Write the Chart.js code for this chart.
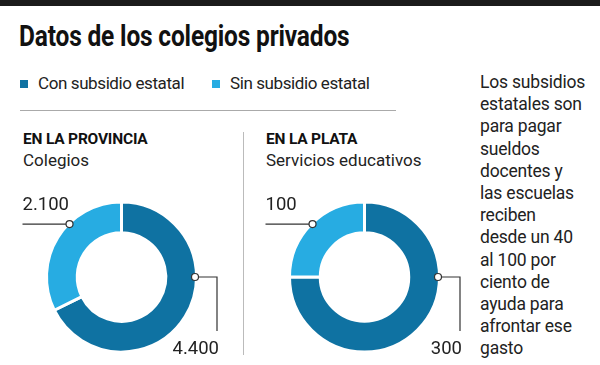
<!DOCTYPE html>
<html>
<head>
<meta charset="utf-8">
<script src="https://cdn.jsdelivr.net/npm/chart.js@4"></script>
<style>
  body { margin: 0; width: 600px; height: 365px; background: #fff; position: relative; overflow: hidden;
         font-family: Roboto, "Liberation Sans", sans-serif; color: #222; }
  .abs { position: absolute; white-space: nowrap; }
  #topbar { left: 0; top: 0; width: 600px; height: 6px; background: #1b1b1b; }
  #title { left: 19px; top: 19px; font-size: 29.5px; font-weight: 700; color: #111; transform: scaleX(0.83); transform-origin: left top; letter-spacing: -0.2px; }
  .leg { top: 73px; font-size: 17px; color: #222; letter-spacing: -0.4px; }
  .leg i { display: inline-block; width: 8px; height: 8px; margin-right: 10px; vertical-align: 1px; }
  #rule { left: 20px; top: 110px; width: 376px; height: 1px; background: #aaa; }
  #vdiv { left: 243px; top: 132px; width: 1px; height: 223px; background: #bbb; }
  .head { font-size: 15.5px; font-weight: 700; color: #111; top: 130px; letter-spacing: -0.2px; }
  .sub { font-size: 17px; top: 150px; color: #222; }
  #note { left: 480px; top: 71px; font-size: 17.5px; line-height: 22.2px; color: #222; letter-spacing: -0.2px; }
  canvas { position: absolute; }
</style>
</head>
<body>
<div class="abs" id="topbar"></div>
<div class="abs" id="title">Datos de los colegios privados</div>
<div class="abs leg" id="leg0" style="left:20px"></div>
<div class="abs leg" id="leg1" style="left:212px"></div>
<div class="abs" id="rule"></div>
<div class="abs" id="vdiv"></div>
<div class="abs head" style="left:23px">EN LA PROVINCIA</div>
<div class="abs sub" style="left:23px">Colegios</div>
<div class="abs head" style="left:266px">EN LA PLATA</div>
<div class="abs sub" style="left:266px">Servicios educativos</div>
<div class="abs" id="note">Los subsidios<br>estatales son<br>para pagar<br>sueldos<br>docentes y<br>las escuelas<br>reciben<br>desde un 40<br>al 100 por<br>ciento de<br>ayuda para<br>afrontar ese<br>gasto</div>
<canvas id="c1" width="243" height="172" style="left:0px;top:191px"></canvas>
<canvas id="c2" width="243" height="172" style="left:243px;top:191px"></canvas>
<script>
// categories
const categories = ["Con subsidio estatal", "Sin subsidio estatal"];
const colors = ["#0f72a2", "#27ace2"];
// series values
const provincia = [4400, 2100];   // colegios
const laPlata = [300, 100];       // servicios educativos

// legend
categories.forEach((c, i) => {
  document.getElementById("leg" + i).innerHTML = '<i style="background:' + colors[i] + '"></i>' + c;
});

function fmt(v) {
  return String(v).replace(/\B(?=(\d{3})+(?!\d))/g, ".");
}

// leader lines + value labels
const leaders = {
  id: "leaders",
  afterDatasetsDraw(chart) {
    const ctx = chart.ctx;
    const arc = chart.getDatasetMeta(0).data[0];
    const cx = arc.x, cy = arc.y, r = arc.outerRadius - 1.5;
    const vals = chart.data.datasets[0].data;
    ctx.save();
    ctx.strokeStyle = "#333";
    ctx.lineWidth = 1.2;
    ctx.fillStyle = "#222";
    ctx.font = "18.5px Roboto";
    ctx.textBaseline = "middle";

    // first value (dark): marker at 3 o'clock, line right then down
    let px = cx + r, py = cy;
    ctx.beginPath();
    ctx.moveTo(px, py);
    ctx.lineTo(px + 22, py);
    ctx.lineTo(px + 22, py + 54);
    ctx.stroke();
    ctx.textAlign = "right";
    ctx.fillText(fmt(vals[0]), px + 24, py + 72);
    marker(ctx, px, py);

    // second value (light): marker at upper left, line to the left
    const a = -Math.PI * 3 / 4;
    px = cx + r * Math.cos(a);
    py = cy + r * Math.sin(a) - 1;
    ctx.beginPath();
    ctx.moveTo(px, py);
    ctx.lineTo(cx - 99, py);
    ctx.stroke();
    ctx.textAlign = "left";
    ctx.fillText(fmt(vals[1]), cx - 99, py - 19);
    marker(ctx, px, py);
    ctx.restore();
  }
};

function marker(ctx, x, y) {
  ctx.beginPath();
  ctx.arc(x, y, 3.5, 0, Math.PI * 2);
  ctx.fillStyle = "#fff";
  ctx.fill();
  ctx.stroke();
  ctx.fillStyle = "#222";
}

function makeDonut(id, values) {
  return new Chart(document.getElementById(id), {
    type: "doughnut",
    data: {
      labels: categories,
      datasets: [{
        data: values,
        backgroundColor: colors,
        borderColor: "#fff",
        borderWidth: 3
      }]
    },
    options: {
      responsive: false,
      animation: false,
      cutout: "59%",
      layout: { padding: { left: 8.5, right: 8.5, top: 9.5, bottom: 9.5 } },
      plugins: { legend: { display: false }, tooltip: { enabled: false } }
    },
    plugins: [leaders]
  });
}

makeDonut("c1", provincia);
makeDonut("c2", laPlata);
</script>
</body>
</html>
